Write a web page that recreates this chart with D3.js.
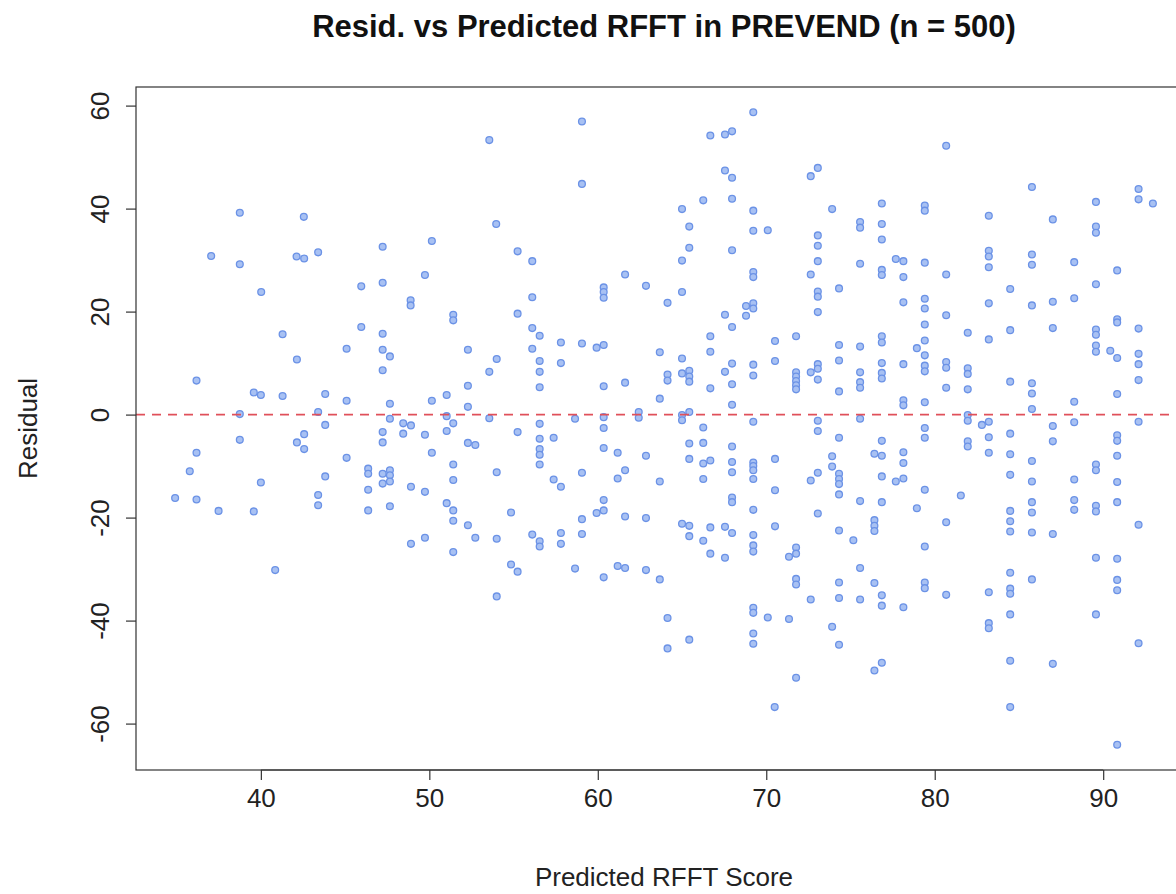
<!DOCTYPE html>
<html><head><meta charset="utf-8">
<script src="https://cdn.jsdelivr.net/npm/d3@7"></script>
<style>body{margin:0;background:#fff}svg{display:block;font-family:"Liberation Sans",Arial,Helvetica,sans-serif}</style>
</head><body><svg id="c" width="1176" height="894"></svg>
<script>
const title = "Resid. vs Predicted RFFT in PREVEND (n = 500)";
const xLabel = "Predicted RFFT Score";
const yLabel = "Residual";
const xTicks = [40, 50, 60, 70, 80, 90];
const yTicks = [-60, -40, -20, 0, 20, 40, 60];
const refLine = 0;

const predicted = [
38.75,42.55,37.05,38.75,42.12,42.57,43.4,40.02,47.23,45.96,47.23,40.85,36.18,38.75,38.75,36.18,35.78,34.91,36.18,37.49,
39.58,40.0,40.0,39.58,41.29,41.29,42.14,42.57,42.14,42.57,43.4,43.82,43.82,43.82,43.4,43.4,45.09,45.09,45.09,45.96,
46.37,46.37,46.37,46.37,47.23,47.23,47.66,47.23,47.66,47.66,47.23,47.23,47.23,47.66,47.66,47.23,47.66,47.66,
53.56,59.06,59.06,53.97,50.15,49.74,48.89,48.89,51.42,51.42,55.24,56.11,56.11,55.24,61.62,60.35,60.35,60.35,62.86,56.11,
56.55,57.81,59.06,59.93,60.35,63.68,52.29,54.0,53.56,56.11,56.55,56.55,57.81,56.55,60.35,61.62,52.29,51.03,50.15,52.29,
63.68,51.03,53.56,58.65,60.35,62.43,62.43,48.45,48.91,48.45,49.74,51.03,51.42,56.55,60.35,55.24,56.55,57.38,52.29,52.73,
56.55,56.55,60.35,50.15,61.18,62.86,51.42,56.55,61.62,61.18,54.0,59.06,51.42,57.38,57.81,63.68,48.91,49.74,51.03,51.42,
51.42,52.29,54.85,60.35,59.93,60.35,59.06,61.62,62.86,56.11,56.55,56.55,57.81,57.81,59.06,48.91,49.74,52.73,54.0,51.42,
54.85,55.24,54.0,58.65,60.35,61.18,61.62,62.86,63.68,
69.23,66.68,67.55,67.97,67.55,67.97,72.64,73.06,66.26,67.97,65.0,69.23,73.91,76.86,65.43,69.23,70.09,73.06,73.06,75.57,
75.57,76.86,76.86,65.43,65.0,67.97,73.06,72.64,75.57,77.69,78.14,76.86,76.86,78.14,69.23,69.23,74.32,65.0,64.14,73.06,
73.06,73.06,78.14,67.55,68.8,69.23,69.23,68.8,
67.97,66.68,66.68,65.0,64.14,64.14,65.0,65.43,65.43,65.43,66.68,67.97,67.97,67.55,69.23,69.23,70.52,70.52,71.77,71.77,
71.77,71.77,71.77,71.77,72.64,73.06,73.06,73.06,74.32,74.32,74.32,75.57,75.57,75.57,75.57,76.86,76.86,76.86,76.86,76.86,
78.14,78.94,67.97,78.14,78.14,65.0,65.0,65.43,69.23,73.06,73.06,75.57,66.26,65.43,66.26,67.97,74.32,76.86,65.43,66.26,
66.68,67.97,67.97,69.23,69.23,69.23,70.52,73.91,73.91,76.42,76.86,78.14,78.14,73.06,72.64,74.32,74.32,74.32,66.26,69.23,
76.86,77.69,78.14,70.52,74.32,67.97,67.97,75.57,76.86,78.94,69.23,73.06,65.0,65.43,66.68,67.55,67.97,65.43,66.26,69.23,
69.23,70.52,71.77,74.32,75.17,76.42,76.42,76.42,
66.68,67.55,69.23,71.35,71.77,71.77,71.77,75.57,74.32,76.42,76.86,76.86,78.14,72.64,74.32,75.57,64.14,65.43,64.14,69.23,
69.23,70.09,71.35,69.23,69.23,73.91,74.32,76.42,76.86,71.77,70.5,
80.68,85.77,92.1,92.1,92.95,89.57,79.41,79.41,83.21,87.01,89.57,89.57,83.21,83.21,83.21,85.77,85.77,88.28,79.41,80.68,
90.83,89.57,84.48,79.41,79.41,83.21,85.77,87.01,88.28,80.68,90.83,
79.41,79.41,79.41,79.41,79.41,79.41,79.41,79.41,79.41,79.41,81.96,83.21,84.48,87.01,89.57,89.57,89.57,89.57,90.42,90.83,
90.83,92.1,92.1,92.1,92.1,80.68,80.68,81.96,81.96,80.68,81.96,84.48,85.77,85.77,85.77,88.28,90.83,81.96,81.96,82.8,
83.21,88.28,87.01,92.1,84.48,83.21,81.96,81.96,87.01,90.83,90.83,83.21,84.48,90.83,85.77,89.57,89.57,84.48,85.77,88.28,
90.83,81.55,85.77,85.77,84.48,84.48,84.48,85.77,87.01,88.28,88.28,89.57,89.57,90.83,80.68,92.1,
79.41,79.41,80.68,83.21,84.48,84.48,84.48,85.77,84.48,83.21,83.21,89.57,90.83,90.83,90.83,89.57,92.1,84.48,87.01,84.48,
90.83
];
const residual = [
39.2,38.4,30.8,29.2,30.7,30.3,31.5,23.8,32.6,24.9,25.6,-30.2,6.6,0.1,-4.9,-7.4,-11.0,-16.2,-16.5,-18.7,
4.3,3.8,-13.2,-18.8,15.6,3.6,10.7,-3.8,-5.4,-6.7,0.5,4.0,-2.0,-12.0,-15.6,-17.6,12.8,2.7,-8.4,17.0,
-10.5,-11.5,-14.6,-18.6,15.7,12.6,11.3,8.6,2.1,-0.8,-3.4,-5.4,-11.5,-10.8,-11.8,-13.4,-13.0,-17.8,
53.3,56.9,44.8,37.0,33.7,27.1,22.2,21.2,19.4,18.3,31.7,29.8,22.8,19.6,27.2,24.7,23.8,22.7,25.0,16.8,
15.3,14.0,13.8,13.0,13.5,12.1,12.6,10.8,8.3,12.8,10.4,8.3,10.0,5.3,5.5,6.2,5.6,3.8,2.7,1.5,
3.1,-0.3,-0.7,-0.8,-0.5,0.5,-0.6,-1.7,-2.1,-3.7,-3.9,-3.2,-1.7,-1.8,-2.6,-3.4,-4.7,-4.5,-5.5,-5.9,
-6.7,-7.8,-6.5,-7.4,-7.4,-8.0,-9.7,-9.7,-10.8,-12.4,-11.2,-11.3,-12.7,-12.6,-14.0,-13.0,-14.0,-15.0,-17.2,-18.6,
-20.6,-21.5,-19.0,-16.6,-19.1,-18.6,-20.3,-19.8,-20.1,-23.3,-24.6,-25.6,-23.0,-25.1,-23.2,-25.1,-23.9,-23.9,-24.1,-26.7,
-29.1,-30.5,-35.3,-29.9,-31.6,-29.4,-29.8,-30.2,-32.0,
58.7,54.2,54.4,55.0,47.4,46.0,46.3,47.9,41.6,41.9,39.9,39.6,39.9,41.0,36.5,35.7,35.8,34.8,32.8,37.4,
36.3,37.0,34.0,32.4,29.9,31.9,29.8,27.2,29.3,30.2,29.8,28.1,27.1,26.7,27.7,26.7,24.5,23.8,21.7,23.9,
22.9,19.9,21.8,19.4,21.1,21.6,20.6,19.2,
17.0,15.2,12.2,10.9,7.8,6.6,8.0,8.5,7.4,6.4,5.1,9.9,5.9,8.3,9.7,7.6,14.3,10.4,15.2,8.2,
7.4,6.5,5.7,4.9,8.2,9.8,8.9,6.8,13.5,10.5,4.5,13.2,8.2,6.3,5.2,15.2,14.0,10.0,8.1,7.0,
9.8,12.9,1.9,2.8,1.8,-0.1,-1.1,0.5,-1.4,-1.2,-3.2,-0.8,-2.5,-5.6,-5.5,-6.2,-4.5,-5.1,-8.6,-9.5,
-8.9,-9.2,-11.2,-9.3,-10.0,-10.8,-8.6,-8.1,-10.1,-7.6,-8.0,-7.3,-9.4,-11.3,-12.8,-11.5,-12.5,-13.5,-12.5,-12.5,
-12.0,-13.0,-12.4,-14.7,-15.5,-16.1,-17.0,-16.8,-17.0,-18.2,-18.5,-19.2,-21.2,-21.6,-21.9,-21.8,-23.0,-23.6,-24.5,-23.4,
-25.4,-21.7,-25.8,-22.5,-24.4,-20.5,-21.6,-22.6,
-27.0,-27.8,-26.6,-27.6,-27.0,-31.9,-33.0,-29.8,-32.6,-32.7,-35.1,-37.1,-37.4,-35.9,-35.6,-35.9,-39.5,-43.7,-45.4,-37.5,
-38.5,-39.4,-39.7,-42.5,-44.5,-41.2,-44.7,-49.7,-48.2,-51.1,-56.8,
52.2,44.2,43.8,41.8,41.0,41.3,40.6,39.6,38.6,37.9,36.5,35.3,31.8,30.7,28.6,31.1,29.1,29.6,29.5,27.2,
28.0,25.3,24.4,22.5,20.6,21.6,21.2,21.9,22.6,19.3,18.5,
17.5,14.4,11.5,9.5,8.4,2.4,-2.6,-4.5,-14.6,-25.6,15.9,14.6,16.4,16.8,16.5,15.5,13.4,12.2,12.4,11.0,
17.9,16.7,11.8,9.8,6.7,10.2,9.1,9.0,7.9,5.2,4.9,6.4,6.1,4.1,1.1,2.5,4.0,-0.1,-1.2,-2.0,
-1.4,-1.5,-2.2,-1.4,-3.7,-4.4,-5.2,-6.2,-5.2,-4.0,-5.1,-7.4,-7.7,-8.0,-9.0,-9.7,-10.8,-11.7,-13.0,-12.6,
-13.1,-15.7,-17.0,-19.0,-18.7,-20.7,-22.7,-22.9,-23.2,-16.6,-18.5,-17.7,-18.8,-17.0,-20.9,-21.4,
-32.6,-33.7,-35.0,-34.5,-30.7,-33.8,-34.8,-32.0,-38.8,-40.5,-41.5,-27.8,-28.0,-32.1,-34.1,-38.8,-44.4,-47.8,-48.4,-56.8,
-64.1
];

const svg = d3.select("#c");
const L = 136, R = 1192, T = 87, B = 770;
const padExt = a => { const [lo, hi] = d3.extent(a); const p = (hi - lo) * 0.04; return [lo - p, hi + p]; };
const x = d3.scaleLinear().domain(padExt(predicted)).range([L, R]);
const y = d3.scaleLinear().domain(padExt(residual)).range([B, T]);
const pts = predicted.map((v, i) => ({x: v, y: residual[i]}));
const fmt = d => String(d);

svg.append("g").selectAll("circle").data(pts).join("circle")
  .attr("cx", d => x(d.x)).attr("cy", d => y(d.y)).attr("r", 3.4)
  .attr("fill", "#a8c1f3").attr("stroke", "#6b92e6").attr("stroke-width", 1.3);

svg.append("line").attr("x1", L).attr("x2", R).attr("y1", y(refLine)).attr("y2", y(refLine))
  .attr("stroke", "#e0505a").attr("stroke-width", 1.7).attr("stroke-dasharray", "9,7");

svg.append("rect").attr("x", L).attr("y", T).attr("width", R - L).attr("height", B - T)
  .attr("fill", "none").attr("stroke", "#333").attr("stroke-width", 1.2);

const gx = svg.append("g").attr("transform", `translate(0,${B})`)
  .call(d3.axisBottom(x).tickValues(xTicks).tickSize(10).tickPadding(9).tickFormat(fmt));
gx.select(".domain").remove();
gx.append("line").attr("x1", x(xTicks[0])).attr("x2", x(xTicks[xTicks.length-1])).attr("stroke", "#333").attr("stroke-width", 1.2);
gx.selectAll(".tick line").attr("stroke", "#333").attr("stroke-width", 1.2);
gx.selectAll(".tick text").attr("font-size", 26).attr("fill", "#222").attr("font-family", "Liberation Sans, Arial, sans-serif");

const gy = svg.append("g").attr("transform", `translate(${L},0)`)
  .call(d3.axisLeft(y).tickValues(yTicks).tickSize(10).tickFormat(fmt));
gy.select(".domain").remove();
gy.selectAll(".tick line").attr("stroke", "#333").attr("stroke-width", 1.2);
gy.selectAll(".tick text").attr("x", null).attr("dy", null).attr("y", null)
  .attr("text-anchor", "middle").attr("transform", "translate(-27,0) rotate(-90)")
  .attr("font-size", 26).attr("fill", "#222").attr("font-family", "Liberation Sans, Arial, sans-serif");

svg.append("text").attr("x", (L + R) / 2).attr("y", 37).attr("text-anchor", "middle")
  .attr("font-size", 31).attr("font-weight", "bold").attr("fill", "#111").text(title);
svg.append("text").attr("x", (L + R) / 2).attr("y", 886).attr("text-anchor", "middle")
  .attr("font-size", 26).attr("fill", "#222").text(xLabel);
svg.append("text").attr("transform", `translate(37,${(T + B) / 2}) rotate(-90)`).attr("text-anchor", "middle")
  .attr("font-size", 26).attr("fill", "#222").text(yLabel);
</script></body></html>
